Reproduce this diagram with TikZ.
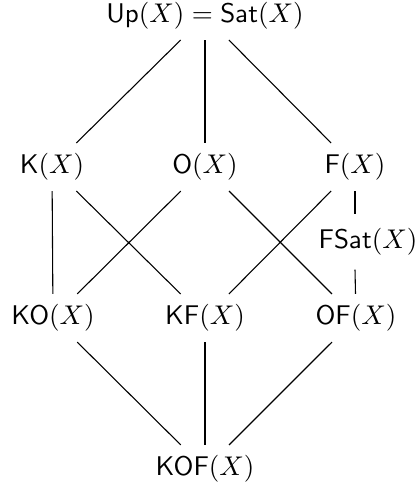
\documentclass[tikz,border=0pt]{standalone}
\usepackage{amsmath}
\begin{document}
\begin{tikzpicture}[x=0.37pt,y=-0.37pt,
  obj/.style={inner xsep=2.8pt,inner ysep=3.7pt,font=\normalsize},
  edge/.style={draw=black,line width=0.4pt}]
\useasboundingbox (0,0) rectangle (416,489);
\node[obj] (up) at (205,16) {$\mathsf{Up}(X) = \mathsf{Sat}(X)$};
\node[obj] (k) at (52,167) {$\mathsf{K}(X)$};
\node[obj] (o) at (205,167) {$\mathsf{O}(X)$};
\node[obj] (f) at (355,167) {$\mathsf{F}(X)$};
\node[obj,inner ysep=5pt] (fsat) at (368,242) {$\mathsf{FSat}(X)$};
\node[obj] (ko) at (53,318) {$\mathsf{KO}(X)$};
\node[obj] (kf) at (205,318) {$\mathsf{KF}(X)$};
\node[obj] (of) at (356,318) {$\mathsf{OF}(X)$};
\node[obj] (kof) at (205,469) {$\mathsf{KOF}(X)$};
\draw[edge] (up) -- (k);
\draw[edge] (up) -- (o);
\draw[edge] (up) -- (f);
\draw[edge] (k) -- (ko);
\draw[edge] (k) -- (kf);
\draw[edge] (o) -- (ko);
\draw[edge] (o) -- (of);
\draw[edge] (f) -- (kf);
\draw[edge] (f) -- (f |- fsat.north);
\draw[edge] (f |- fsat.south) -- (of);
\draw[edge] (ko) -- (kof);
\draw[edge] (kf) -- (kof);
\draw[edge] (of) -- (kof);
\end{tikzpicture}
\end{document}
